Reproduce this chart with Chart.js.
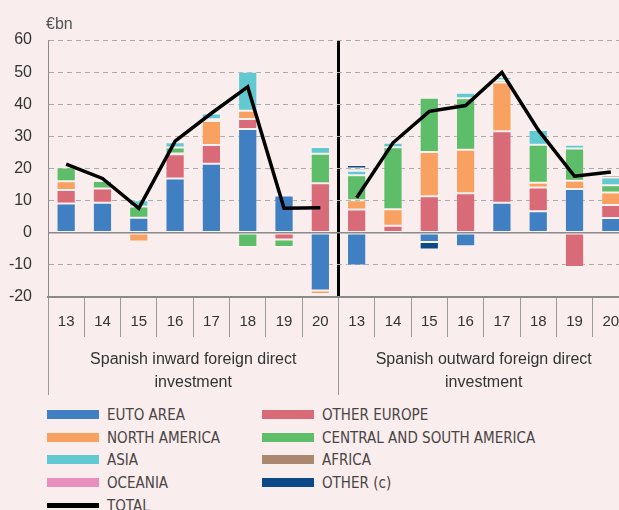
<!DOCTYPE html>
<html>
<head>
<meta charset="utf-8">
<script src="https://cdn.jsdelivr.net/npm/chart.js@4.4.1/dist/chart.umd.min.js"></script>
<style>
  html, body { margin: 0; padding: 0; background: #f9eded; width: 619px; height: 510px; overflow: hidden; }
  #wrap { position: relative; width: 632px; height: 400px; }
  #legend { position: absolute; left: 47px; top: 406px; font-family: 'Liberation Sans Narrow', 'DejaVu Sans Condensed', sans-serif; font-size: 15px; color: #4a4444; }
  .item { position: absolute; white-space: nowrap; height: 18px; line-height: 18px; }
  .sw { display: inline-block; width: 52px; height: 9px; vertical-align: middle; margin-right: 8px; position: relative; top: -1px; }
</style>
</head>
<body>
<div id="wrap"><canvas id="canvas" width="632" height="400"></canvas></div>
<div id="legend"></div>
<script>
const years = ['13', '14', '15', '16', '17', '18', '19', '20', '13', '14', '15', '16', '17', '18', '19', '20'];
const groups = [['Spanish inward foreign direct', 'investment'], ['Spanish outward foreign direct', 'investment']];

// first 8 = inward, last 8 = outward
const euroArea = [9.1, 9.3, 4.7, 16.9, 21.5, 32.3, 11.6, -18.0, -10.2, 0, -2.9, -4.2, 9.3, 6.7, 13.6, 4.6];
const otherEurope = [4.2, 4.5, 0, 7.5, 5.8, 3.1, -2.1, 15.4, 7.2, 2.2, 11.4, 12.3, 22.3, 7.4, -10.7, 4.0];
const northAmerica = [2.7, 0, -2.7, 0.3, 7.5, 2.6, 0, -1.1, 2.9, 5.1, 13.7, 13.5, 15.2, 1.5, 2.6, 3.9];
const centralSouthAmerica = [4.3, 2.3, 3.5, 1.8, 0.5, -4.4, -2.3, 9.2, 7.8, 19.3, 16.9, 16.1, 0.7, 11.8, 10.0, 2.3];
const asia = [0.3, 0.5, 1.9, 1.7, 1.8, 12.1, 0.5, 2.1, 1.4, 1.4, 0, 1.7, 1.0, 4.6, 1.2, 2.4];
const africa = [0.4, 0, 0, 0, 0, 0, 0, 0, 0.7, 0.5, 0.4, 0.6, 0.4, -0.4, 0.4, 0.8];
const oceania = [0, 0, 0, 0, 0, -0.4, -0.4, 0, 0, -0.7, 0.4, -0.3, 0.7, 0.4, 0.5, 0.5];
const other = [0.5, 0.5, 0.3, 0.5, 0.3, 0.1, 0.3, 0.4, 1.1, 0, -2.3, 0, 0, 0, 0, 0];
const total = [21.4, 16.9, 7.6, 28.5, 37.2, 45.4, 7.6, 7.8, 10.9, 28.0, 37.8, 39.6, 49.9, 32.0, 17.6, 18.9];

const series = [
  ['EUTO AREA', euroArea, '#3f7fc2'],
  ['OTHER EUROPE', otherEurope, '#d96b79'],
  ['NORTH AMERICA', northAmerica, '#f9a160'],
  ['CENTRAL AND SOUTH AMERICA', centralSouthAmerica, '#5ebd69'],
  ['ASIA', asia, '#63c9d1'],
  ['AFRICA', africa, '#ab8670'],
  ['OCEANIA', oceania, '#e88fbd'],
  ['OTHER (c)', other, '#0b4a86']
];

const family = "'Liberation Sans', Arial, sans-serif";

const datasets = [{
  type: 'line',
  label: 'TOTAL',
  data: total,
  borderColor: '#000',
  borderWidth: 3.5,
  borderJoinStyle: 'miter',
  pointRadius: 0,
  stack: 'total',
  segment: {
    // no line between the inward and the outward group
    borderColor: ctx => ctx.p0DataIndex === 7 ? 'rgba(0,0,0,0)' : '#000'
  }
}];
series.forEach(s => {
  datasets.push({
    type: 'bar',
    label: s[0],
    data: s[1],
    backgroundColor: s[2],
    borderColor: 'rgba(255,255,255,0.3)',
    borderWidth: 1,
    borderSkipped: false,
    stack: 'regions',
    barPercentage: 0.53,
    categoryPercentage: 1
  });
});

const euroLabel = {
  id: 'euroLabel',
  afterDraw(chart) {
    const c = chart.ctx;
    c.save();
    c.font = '16px ' + family;
    c.fillStyle = '#555';
    c.textBaseline = 'middle';
    c.fillText('€bn', chart.chartArea.left - 2, 25);
    c.restore();
  }
};

new Chart(document.getElementById('canvas'), {
  data: { labels: years, datasets: datasets },
  plugins: [euroLabel],
  options: {
    responsive: false,
    animation: false,
    layout: { padding: { left: 8, top: 40, right: 3, bottom: 3 } },
    plugins: { legend: { display: false }, tooltip: { enabled: false } },
    scales: {
      x: {
        type: 'category',
        stacked: true,
        offset: true,
        afterFit: s => { s.height = 0; },
        grid: {
          offset: true,
          drawOnChartArea: true,
          color: ctx => ctx.index === 8 ? '#000' : 'rgba(0,0,0,0)',
          lineWidth: ctx => ctx.index === 8 ? 3 : 1,
          tickColor: '#9a9a9a',
          tickWidth: 1,
          tickLength: 40
        },
        border: { display: true, color: '#8a8a8a', width: 2 },
        // mirror only turns off label clipping on a horizontal axis
        ticks: { mirror: true, font: { family: family, size: 15 }, color: '#333', padding: -34, maxRotation: 0, autoSkip: false }
      },
      x2: {
        type: 'category',
        labels: groups,
        position: 'bottom',
        offset: true,
        afterFit: s => { s.height = 100; },
        grid: {
          offset: true,
          drawOnChartArea: false,
          color: '#9a9a9a',
          tickColor: '#9a9a9a',
          tickLength: 98
        },
        border: { display: false },
        ticks: { mirror: true, font: { family: family, size: 16, lineHeight: 1.44 }, color: '#333', padding: -74.5, maxRotation: 0 }
      },
      y: {
        stacked: true,
        min: -20,
        max: 60,
        afterFit: s => { s.width = 40; },
        ticks: { stepSize: 10, font: { family: family, size: 16 }, color: '#333', padding: 16 },
        grid: {
          drawTicks: false,
          color: ctx => {
            if (!ctx.tick) return '#aaa';
            if (ctx.tick.value === -20) return 'rgba(0,0,0,0)';
            if (ctx.tick.value === 0) return '#8a8a8a';
            return '#ababab';
          },
          lineWidth: ctx => ctx.tick && ctx.tick.value === 0 ? 1.5 : 1
        },
        border: {
          display: true,
          color: '#8a8a8a',
          width: 1,
          dash: ctx => ctx.tick && ctx.tick.value === 0 ? [] : [5, 4]
        }
      }
    }
  }
});

// legend
const legendRows = [
  ['EUTO AREA', '#3f7fc2', 0, 0], ['OTHER EUROPE', '#d96b79', 1, 0],
  ['NORTH AMERICA', '#f9a160', 0, 1], ['CENTRAL AND SOUTH AMERICA', '#5ebd69', 1, 1],
  ['ASIA', '#63c9d1', 0, 2], ['AFRICA', '#ab8670', 1, 2],
  ['OCEANIA', '#e88fbd', 0, 3], ['OTHER (c)', '#0b4a86', 1, 3],
  ['TOTAL', '#000', 0, 4]
];
const legend = document.getElementById('legend');
legendRows.forEach(r => {
  const d = document.createElement('div');
  d.className = 'item';
  d.style.left = (r[2] * 215) + 'px';
  d.style.top = (r[3] * 22.7) + 'px';
  const h = r[0] === 'TOTAL' ? 'height:5px;' : '';
  d.innerHTML = '<span class="sw" style="background:' + r[1] + ';' + h + '"></span>' + r[0];
  legend.appendChild(d);
});
</script>
</body>
</html>
